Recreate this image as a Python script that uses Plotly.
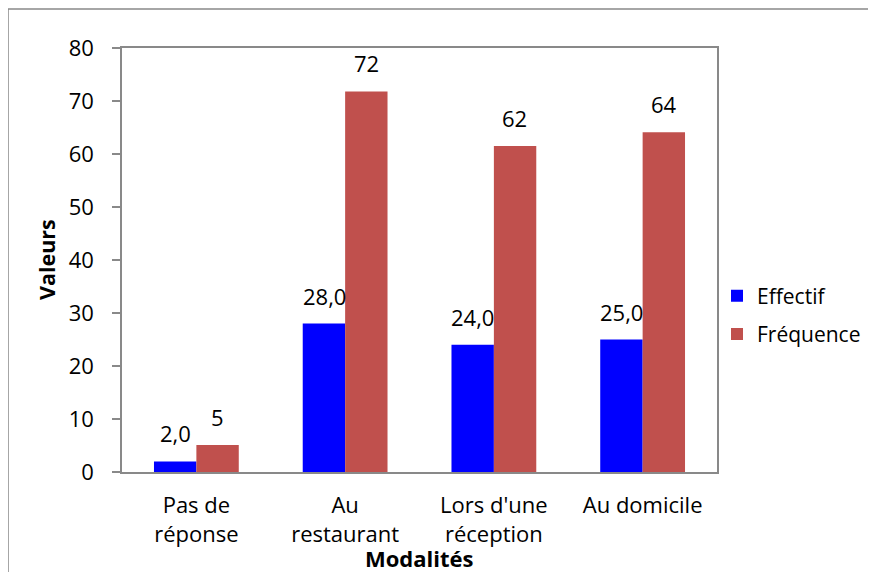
import plotly.graph_objects as go

categories = ["Pas de<br>réponse", "Au<br>restaurant", "Lors d'une<br>réception", "Au domicile"]
effectif = [2, 28, 24, 25]
frequence = [5.1, 71.8, 61.5, 64.1]
y_ticks = [0, 10, 20, 30, 40, 50, 60, 70, 80]

FONT = "Open Sans"
GRAY = "#898989"
BLUE = "#0000FF"
RED = "#C0504D"
FS = 22

# plot area in page pixels (page has an 8px body margin)
L, T, W, H = 114, 40, 595, 424

fig = go.Figure()
fig.add_trace(go.Bar(x=categories, y=effectif, name="Effectif", marker=dict(color=BLUE, line=dict(width=0)),
                     legendgroup="a"))
fig.add_trace(go.Bar(x=categories, y=frequence, name="Fréquence", marker=dict(color=RED, line=dict(width=0)),
                     legendgroup="b"))

annotations = []
for c, v in zip(categories, effectif):
    annotations.append(dict(x=c, y=v, xref="x", yref="y", text=f"{v:.1f}".replace(".", ","),
                            showarrow=False, xshift=-21, yshift=11, yanchor="bottom", xanchor="center",
                            font=dict(family=FONT, size=FS, color="black")))
for c, v in zip(categories, frequence):
    annotations.append(dict(x=c, y=v, xref="x", yref="y", text=f"{round(v):d}",
                            showarrow=False, xshift=21, yshift=11, yanchor="bottom", xanchor="center",
                            font=dict(family=FONT, size=FS, color="black")))
annotations.append(dict(x=0.5, y=-86 / H, xref="paper", yref="paper", text="<b>Modalités</b>",
                        showarrow=False, xanchor="center", yanchor="middle",
                        font=dict(family=FONT, size=22, color="black")))
annotations.append(dict(x=-76 / W, y=0.5, xref="paper", yref="paper", text="<b>Valeurs</b>",
                        showarrow=False, textangle=-90, xanchor="center", yanchor="middle",
                        font=dict(family=FONT, size=21.5, color="black")))

fig.update_layout(
    width=876, height=572,
    margin=dict(l=L, r=876 - L - W, t=T, b=572 - T - H, autoexpand=False),
    paper_bgcolor="white", plot_bgcolor="white",
    barmode="group", bargap=0.43, bargroupgap=0,
    font=dict(family=FONT, size=FS, color="black"),
    showlegend=True,
    legend=dict(x=1.0, xanchor="left", y=0.37, yanchor="middle", traceorder="grouped", tracegroupgap=8,
                font=dict(family=FONT, size=21, color="black"), bgcolor="rgba(0,0,0,0)"),
    xaxis=dict(showline=True, linecolor=GRAY, linewidth=1.5, mirror=True, ticks="", showgrid=False,
               tickfont=dict(family=FONT, size=FS, color="black"), ticklabelstandoff=13),
    yaxis=dict(range=[0, 80], tickvals=y_ticks, showline=True, linecolor=GRAY, linewidth=1.5, mirror=True,
               ticks="outside", ticklen=8, tickcolor=GRAY, tickwidth=1.5, showgrid=False, zeroline=False,
               tickfont=dict(family=FONT, size=FS, color="black"), ticklabelstandoff=14),
    annotations=annotations,
    shapes=[dict(type="rect", xref="paper", yref="paper",
                 x0=(0 - L) / W, x1=(890 - L) / W,
                 y0=-(600 - T - H) / H, y1=1 + (T - 1) / H,
                 line=dict(color=GRAY, width=1.5), fillcolor="rgba(0,0,0,0)", layer="below")],
)

fig.write_html("out.html")
